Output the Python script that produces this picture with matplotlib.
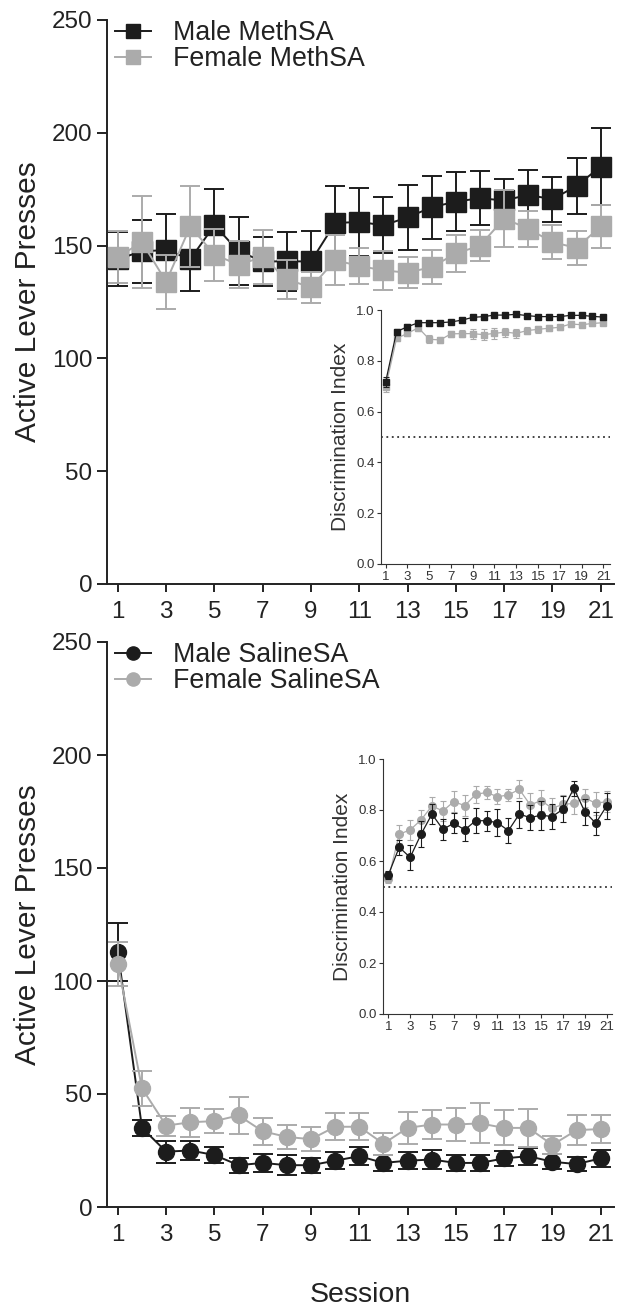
import numpy as np
import matplotlib
matplotlib.use("Agg")
import matplotlib.pyplot as plt
from matplotlib.lines import Line2D

plt.rcParams['font.family'] = ['Liberation Sans', 'DejaVu Sans']

# ---------------- data ----------------
sessions = list(range(1, 22))
tick_sessions = list(range(1, 22, 2))

meth_male = [144, 147.5, 148, 144, 159, 147.5, 143, 143, 143, 160, 160.5, 159,
             162.5, 167, 169.5, 171, 170, 172.5, 170.5, 176.5, 185]
meth_male_sem = [12, 14, 16, 14, 16, 15, 11, 13, 13.5, 16.5, 15, 12.5,
                 14.5, 14, 13, 12, 9.5, 11, 10, 12.5, 17]
meth_female = [145, 151.5, 134, 158.5, 146, 141.5, 145, 135, 131.5, 143.5, 141, 139,
               138, 140.5, 146.5, 150, 162, 157.5, 151.5, 149, 158.5]
meth_female_sem = [11.5, 20.5, 12, 18, 11.5, 10.5, 12, 8.5, 7, 11, 8, 8.5,
                   7, 7.5, 8, 7, 12.5, 8, 7.5, 7.5, 9.5]

saline_male = [113, 35, 24.5, 25, 23, 18.5, 19.5, 18.5, 18.5, 20.5, 22.5, 19.5,
               20.5, 21, 19.5, 19.5, 21.5, 22.5, 20, 19, 21.5]
saline_male_sem = [12.8, 3.7, 4.9, 4.4, 3.7, 3.4, 4, 4.4, 3.4, 3.7, 4, 3.4,
                   3.7, 4.2, 3.7, 3.4, 3.4, 3.7, 3.4, 3, 3.7]
saline_female = [107.5, 52.5, 36, 37.5, 38, 40.5, 33.5, 31, 30, 35.5, 35.5, 28,
                 35, 36.5, 36.5, 37, 35, 35, 27.5, 34, 34.5]
saline_female_sem = [9.8, 7.8, 4.4, 6.4, 5.2, 8.1, 5.9, 5.3, 5.2, 5.9, 5.9, 4.9,
                     7, 6.5, 7.4, 8.9, 7.7, 8.4, 4.1, 6.7, 6.4]

di_meth_male = [0.718, 0.915, 0.934, 0.95, 0.95, 0.95, 0.953, 0.96, 0.971, 0.974, 0.98,
                0.98, 0.983, 0.978, 0.974, 0.974, 0.974, 0.979, 0.979, 0.975, 0.972]
di_meth_male_sem = [0.02, 0.012, 0.012, 0.008, 0.008, 0.008, 0.008, 0.008, 0.007, 0.007, 0.006,
                    0.006, 0.006, 0.006, 0.006, 0.006, 0.006, 0.006, 0.006, 0.006, 0.006]
di_meth_female = [0.698, 0.888, 0.908, 0.93, 0.885, 0.882, 0.906, 0.907, 0.907, 0.903, 0.908,
                  0.913, 0.908, 0.919, 0.924, 0.928, 0.932, 0.945, 0.942, 0.947, 0.95]
di_meth_female_sem = [0.02, 0.012, 0.012, 0.012, 0.015, 0.012, 0.012, 0.015, 0.02, 0.022, 0.022,
                      0.018, 0.018, 0.014, 0.014, 0.012, 0.01, 0.01, 0.01, 0.01, 0.01]

di_sal_male = [0.545, 0.654, 0.614, 0.705, 0.784, 0.724, 0.748, 0.722, 0.758, 0.758, 0.75,
               0.719, 0.784, 0.77, 0.78, 0.774, 0.803, 0.885, 0.793, 0.748, 0.816]
di_sal_male_sem = [0.015, 0.03, 0.05, 0.05, 0.04, 0.04, 0.04, 0.045, 0.05, 0.04, 0.053,
                   0.05, 0.053, 0.05, 0.057, 0.05, 0.05, 0.03, 0.05, 0.045, 0.05]
di_sal_female = [0.528, 0.705, 0.722, 0.761, 0.816, 0.796, 0.833, 0.817, 0.861, 0.869, 0.852,
                 0.859, 0.881, 0.82, 0.837, 0.807, 0.822, 0.826, 0.848, 0.826, 0.833]
di_sal_female_sem = [0.015, 0.035, 0.04, 0.04, 0.035, 0.04, 0.04, 0.04, 0.035, 0.025, 0.03,
                     0.025, 0.035, 0.045, 0.04, 0.04, 0.035, 0.04, 0.035, 0.045, 0.04]

top_labels = ['Male MethSA', 'Female MethSA']
bottom_labels = ['Male SalineSA', 'Female SalineSA']

# ---------------- style ----------------
BLACK = '#1c1c1c'
GRAY = '#ababab'
TXT = '#222222'
W, H = 617, 1313

fig = plt.figure(figsize=(W / 100, H / 100), dpi=100)


def rect(left, right, top, bottom):
    return [left / W, 1 - bottom / H, (right - left) / W, (bottom - top) / H]


def style_main(ax):
    for s in ['top', 'right']:
        ax.spines[s].set_visible(False)
    for s in ['left', 'bottom']:
        ax.spines[s].set_linewidth(1.4)
        ax.spines[s].set_color(TXT)
    ax.set_xlim(0.55, 21.55)
    ax.set_ylim(0, 250)
    ax.set_xticks(tick_sessions)
    ax.set_yticks([0, 50, 100, 150, 200, 250])
    ax.tick_params(axis='x', length=6, width=1.4, pad=6.3, labelsize=17.4,
                   colors=TXT)
    ax.tick_params(axis='y', length=7.2, width=1.4, pad=3.4, labelsize=17.4,
                   colors=TXT)
    ax.set_ylabel('Active Lever Presses', fontsize=21.5, color=TXT)
    ax.yaxis.set_label_coords(-0.128, 0.5)


def style_inset(ax, x0, x1):
    for s in ['top', 'right']:
        ax.spines[s].set_visible(False)
    for s in ['left', 'bottom']:
        ax.spines[s].set_linewidth(0.8)
        ax.spines[s].set_color('#333333')
    ax.set_xlim(x0, x1)
    ax.set_ylim(0, 1.0)
    ax.set_xticks(tick_sessions)
    ax.set_yticks([0.0, 0.2, 0.4, 0.6, 0.8, 1.0])
    ax.set_yticklabels(['0.0', '0.2', '0.4', '0.6', '0.8', '1.0'])
    ax.tick_params(axis='both', length=3.2, width=0.8, pad=1.5, labelsize=9.5,
                   colors='#333333')
    ax.set_ylabel('Discrimination Index', fontsize=15, color='#333333')
    ax.yaxis.set_label_coords(-0.135, 0.5)
    ax.axhline(0.5, color='#333333', lw=1.3, ls=(0, (1, 2)), zorder=1)


def main_series(ax, y, e, color, marker, ms, z):
    ax.errorbar(sessions, y, yerr=e, color=color, marker=marker, ms=ms,
                lw=1.4, elinewidth=1.4, capsize=7, capthick=1.4, zorder=z,
                clip_on=False)


def inset_series(ax, y, e, color, marker, ms, z):
    ax.errorbar(sessions, y, yerr=e, color=color, marker=marker, ms=ms,
                lw=0.9, elinewidth=0.8, capsize=2.5, capthick=0.8, zorder=z,
                clip_on=False)


def add_legend(ax, labels, marker):
    handles = [Line2D([], [], color=BLACK, marker=marker, ms=9.5, lw=1.4),
               Line2D([], [], color=GRAY, marker=marker, ms=9.5, lw=1.4)]
    ax.legend(handles, labels, loc='upper left', bbox_to_anchor=(0.0158, 1.0),
              frameon=False, fontsize=19.3, borderpad=0, borderaxespad=0,
              labelspacing=0.0, handlelength=1.36, handletextpad=0.82,
              labelcolor=TXT)


# ---------------- top panel ----------------
ax1 = fig.add_axes(rect(107, 614, 20, 584))
style_main(ax1)
main_series(ax1, meth_male, meth_male_sem, BLACK, 's', 14, 3)
main_series(ax1, meth_female, meth_female_sem, GRAY, 's', 14, 4)
add_legend(ax1, top_labels, 's')

ins1 = fig.add_axes(rect(381, 610, 310, 564))
style_inset(ins1, 0.568, 21.62)
inset_series(ins1, di_meth_female, di_meth_female_sem, GRAY, 's', 5, 3)
inset_series(ins1, di_meth_male, di_meth_male_sem, BLACK, 's', 5, 4)

# ---------------- bottom panel ----------------
ax2 = fig.add_axes(rect(107, 614, 642, 1207))
style_main(ax2)
main_series(ax2, saline_male, saline_male_sem, BLACK, 'o', 11.5, 3)
main_series(ax2, saline_female, saline_female_sem, GRAY, 'o', 11.5, 4)
add_legend(ax2, bottom_labels, 'o')
ax2.set_xlabel('Session', fontsize=20.5, color=TXT)
ax2.xaxis.set_label_coords(0.5, -0.132)

ins2 = fig.add_axes(rect(383, 612, 759, 1014))
style_inset(ins2, 0.515, 21.49)
inset_series(ins2, di_sal_female, di_sal_female_sem, GRAY, 'o', 5.5, 3)
inset_series(ins2, di_sal_male, di_sal_male_sem, BLACK, 'o', 5.5, 4)

fig.savefig('out.png', dpi=100)
